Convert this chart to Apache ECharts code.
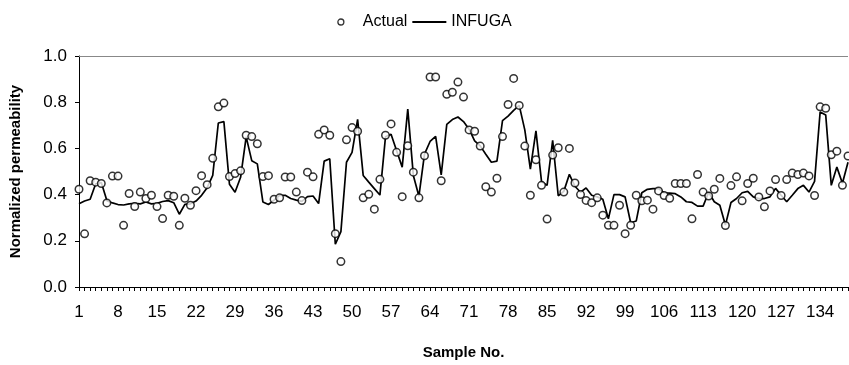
<!DOCTYPE html>
<html>
<head>
<meta charset="utf-8">
<script src="https://cdn.jsdelivr.net/npm/echarts@6/dist/echarts.min.js"></script>
<style>html,body{margin:0;padding:0;background:#fff}#c{width:849px;height:365px}</style>
</head>
<body>
<div id="c"></div>
<script>
var samples = [];
for (var i = 1; i <= 139; i++) samples.push(String(i));

var actual = [
0.423,0.23,0.46,0.454,0.448,0.364,0.48,0.48,0.267,0.405,
0.348,0.411,0.383,0.397,0.348,0.296,0.397,0.393,0.267,0.384,
0.354,0.417,0.482,0.443,0.557,0.78,0.796,0.478,0.491,0.503,
0.657,0.651,0.62,0.478,0.482,0.38,0.386,0.476,0.476,0.411,
0.374,0.497,0.477,0.661,0.68,0.657,0.231,0.11,0.637,0.69,
0.674,0.386,0.401,0.337,0.466,0.657,0.706,0.583,0.391,0.611,
0.497,0.386,0.568,0.909,0.909,0.46,0.834,0.843,0.887,0.822,
0.68,0.674,0.61,0.434,0.411,0.471,0.651,0.79,0.903,0.786,
0.61,0.397,0.551,0.44,0.294,0.571,0.603,0.411,0.6,0.45,
0.40,0.375,0.365,0.386,0.311,0.267,0.267,0.354,0.231,0.267,
0.397,0.373,0.376,0.337,0.416,0.396,0.384,0.448,0.448,0.448,
0.295,0.487,0.411,0.394,0.423,0.47,0.266,0.439,0.477,0.373,
0.448,0.471,0.39,0.347,0.416,0.465,0.396,0.465,0.493,0.487,
0.493,0.481,0.396,0.78,0.774,0.572,0.588,0.44,0.567
];

var infuga = [
0.36,0.372,0.38,0.447,0.452,0.374,0.364,0.357,0.355,0.36,
0.362,0.36,0.368,0.36,0.362,0.37,0.374,0.365,0.315,0.358,
0.36,0.372,0.397,0.43,0.483,0.71,0.716,0.445,0.41,0.475,
0.65,0.547,0.533,0.368,0.357,0.376,0.397,0.397,0.383,0.376,
0.371,0.391,0.394,0.361,0.545,0.555,0.185,0.24,0.54,0.583,
0.726,0.483,0.454,0.426,0.398,0.65,0.661,0.59,0.519,0.77,
0.483,0.393,0.575,0.63,0.652,0.485,0.704,0.725,0.736,0.716,
0.683,0.633,0.611,0.575,0.54,0.545,0.72,0.74,0.765,0.786,
0.68,0.51,0.676,0.457,0.44,0.635,0.395,0.414,0.488,0.436,
0.41,0.429,0.397,0.39,0.38,0.295,0.40,0.40,0.39,0.278,
0.286,0.408,0.423,0.426,0.426,0.408,0.406,0.404,0.39,0.369,
0.366,0.35,0.35,0.41,0.369,0.354,0.268,0.366,0.383,0.408,
0.414,0.39,0.383,0.383,0.39,0.427,0.397,0.369,0.397,0.426,
0.44,0.411,0.457,0.758,0.745,0.44,0.519,0.449,0.54
];

var yTicks = [0, 0.2, 0.4, 0.6, 0.8, 1.0];

var FONT = '"Liberation Sans Narrow", "Liberation Sans", Arial, sans-serif';
var chart = echarts.init(document.getElementById('c'), null, {renderer: 'canvas'});
chart.setOption({
  animation: false,
  backgroundColor: '#fff',
  legend: {
    top: 9,
    left: 'center',
    itemGap: 4,
    textStyle: {fontFamily: FONT, fontSize: 16, color: '#000'},
    data: [
      {name: 'Actual', icon: 'circle', itemStyle: {color: '#fff', borderColor: '#000', borderWidth: 1.3}},
      {name: 'INFUGA', itemStyle: {opacity: 0}}
    ],
    itemWidth: 34,
    itemHeight: 6
  },
  grid: {left: 79, right: 1, top: 56, bottom: 76, containLabel: false},
  xAxis: {
    type: 'category',
    data: samples,
    boundaryGap: false,
    name: 'Sample No.',
    nameLocation: 'middle',
    nameGap: 58,
    nameTextStyle: {fontFamily: 'Liberation Sans, Arial, sans-serif', fontWeight: 'bold', fontSize: 15, color: '#000'},
    axisLine: {lineStyle: {color: '#000', width: 1}},
    axisTick: {show: true, interval: 0, length: 4, inside: false, lineStyle: {color: '#000'}},
    axisLabel: {interval: 6, fontFamily: FONT, fontSize: 17, color: '#000', margin: 17},
    splitLine: {show: false}
  },
  yAxis: {
    type: 'value',
    min: 0,
    max: 1,
    interval: 0.2,
    name: 'Normalized permeability',
    nameLocation: 'middle',
    nameGap: 56,
    nameRotate: 90,
    nameTextStyle: {fontFamily: 'Liberation Sans, Arial, sans-serif', fontWeight: 'bold', fontSize: 15, color: '#000'},
    axisLine: {show: true, lineStyle: {color: '#000', width: 1}},
    axisTick: {show: true, length: 4, lineStyle: {color: '#000'}},
    axisLabel: {fontFamily: FONT, fontSize: 17, color: '#000', margin: 12,
      formatter: function (v) { return v.toFixed(1); }},
    splitLine: {show: false}
  },
  series: [
    {
      name: 'Actual',
      type: 'scatter',
      data: actual,
      symbol: 'circle',
      symbolSize: 7.5,
      itemStyle: {color: '#fff', borderColor: '#000', borderWidth: 1.5},
      z: 3
    },
    {
      name: 'INFUGA',
      type: 'line',
      data: infuga,
      symbol: 'none',
      showSymbol: false,
      lineStyle: {color: '#000', width: 1.7},
      itemStyle: {color: '#000'},
      z: 2,
      markLine: {
        silent: true,
        symbol: 'none',
        label: {show: false},
        lineStyle: {color: '#888', width: 1.2, type: 'solid'},
        data: [{yAxis: yTicks[yTicks.length - 1]}]
      }
    }
  ]
});
</script>
</body>
</html>
